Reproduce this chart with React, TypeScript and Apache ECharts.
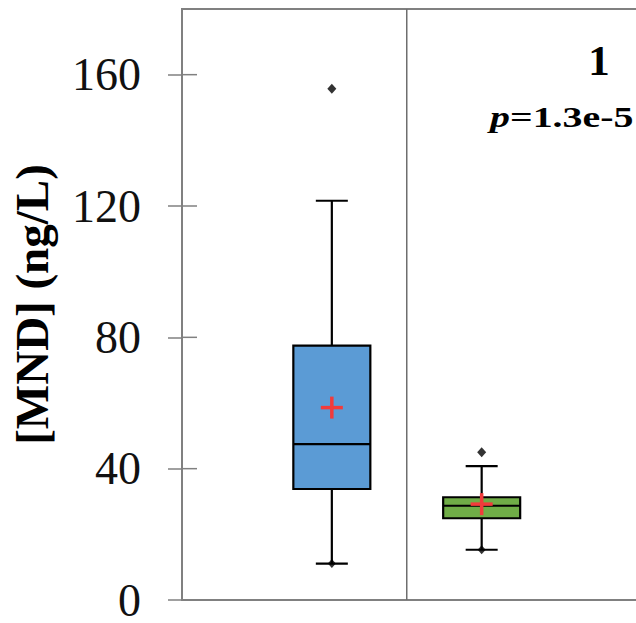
import React, { useEffect, useRef } from "react";
import * as echarts from "echarts";

// ---- data ----
const groupPositions = [1, 2];
const lowerWhisker = [11.1, 15.3];
const q1Values = [33.8, 24.9];
const medianValues = [47.5, 28.7];
const q3Values = [77.5, 31.3];
const upperWhisker = [121.6, 40.8];
const meanValues = [58.6, 29.2];
const outlierPoints = [
  [1, 155.7],
  [2, 45.0],
];
const yTicks = [0, 40, 80, 120, 160];
const boxColors = ["#5b9bd5", "#70ad47"];
const dividerAt = 1.5;
const panelLabel = "1";
const pValueText = "=1.3e-5";
const yMax = 180;
const xMax = 3.03;

export default function App() {
  const ref = useRef<HTMLDivElement>(null);

  useEffect(() => {
    if (!ref.current) return;
    const chart = echarts.init(ref.current, null, { renderer: "svg" });

    const boxData = groupPositions.map((x, i) => [
      x,
      lowerWhisker[i],
      q1Values[i],
      medianValues[i],
      q3Values[i],
      upperWhisker[i],
      meanValues[i],
    ]);
    const minPoints = groupPositions.map((x, i) => [x, lowerWhisker[i]]);

    const option: any = {
      animation: false,
      backgroundColor: "#ffffff",
      grid: {
        left: 181,
        top: 9,
        width: 460,
        height: 597,
        show: false,
      },
      xAxis: {
        type: "value",
        min: 0,
        max: xMax,
        axisLine: { show: true, onZero: false, lineStyle: { color: "#808080", width: 2 } },
        axisTick: { show: false },
        axisLabel: { show: false },
        splitLine: { show: false },
      },
      yAxis: {
        type: "value",
        min: 0,
        max: yMax,
        interval: 40,
        name: "[MND] (ng/L)",
        nameLocation: "middle",
        nameGap: 127,
        nameTextStyle: {
          fontFamily: "Liberation Serif",
          fontWeight: "bold",
          fontSize: 47,
          color: "#000",
        },
        axisLine: { show: true, lineStyle: { color: "#808080", width: 2 } },
        axisTick: {
          show: true,
          length: 14,
          customValues: yTicks,
          lineStyle: { color: "#808080", width: 1.5 },
        },
        axisLabel: {
          customValues: yTicks,
          margin: 41,
          fontFamily: "Liberation Serif",
          fontSize: 46,
          color: "#111",
        },
        splitLine: { show: false },
      },
      series: [
        {
          type: "custom",
          data: yTicks.map((t) => [0, t]),
          renderItem: (params: any, api: any) => {
            const p = api.coord([api.value(0), api.value(1)]);
            return {
              type: "line",
              shape: { x1: p[0], y1: p[1], x2: p[0] + 15, y2: p[1] },
              style: { stroke: "#808080", lineWidth: 1.5 },
            };
          },
          z: 1,
          silent: true,
        },
        {
          type: "custom",
          data: [[0, yMax]],
          renderItem: (params: any, api: any) => {
            const a = api.coord([0, api.value(1)]);
            const b = api.coord([xMax, api.value(1)]);
            return {
              type: "line",
              shape: { x1: a[0] - 1, y1: a[1], x2: b[0], y2: b[1] },
              style: { stroke: "#808080", lineWidth: 2 },
            };
          },
          z: 1,
          silent: true,
        },
        {
          type: "custom",
          data: [[dividerAt]],
          renderItem: (params: any, api: any) => {
            const top = api.coord([api.value(0), yMax]);
            const bot = api.coord([api.value(0), 0]);
            return {
              type: "line",
              shape: { x1: top[0], y1: top[1], x2: bot[0], y2: bot[1] },
              style: { stroke: "#6e6e6e", lineWidth: 1.5 },
            };
          },
          z: 1,
          silent: true,
        },
        {
          type: "custom",
          data: boxData,
          renderItem: (params: any, api: any) => {
            const x = api.value(0);
            const pLow = api.coord([x, api.value(1)]);
            const pQ1 = api.coord([x, api.value(2)]);
            const pMed = api.coord([x, api.value(3)]);
            const pQ3 = api.coord([x, api.value(4)]);
            const pHigh = api.coord([x, api.value(5)]);
            const pMean = api.coord([x, api.value(6)]);
            const cx = pMed[0];
            const halfBox = 38.5;
            const halfCap = 16;
            const halfPlus = 11;
            const color = boxColors[params.dataIndex];
            const lineStyle = { stroke: "#000", lineWidth: 2.2 };
            return {
              type: "group",
              children: [
                { type: "line", shape: { x1: cx, y1: pQ3[1], x2: cx, y2: pHigh[1] }, style: lineStyle },
                { type: "line", shape: { x1: cx, y1: pQ1[1], x2: cx, y2: pLow[1] }, style: lineStyle },
                { type: "line", shape: { x1: cx - halfCap, y1: pHigh[1], x2: cx + halfCap, y2: pHigh[1] }, style: lineStyle },
                { type: "line", shape: { x1: cx - halfCap, y1: pLow[1], x2: cx + halfCap, y2: pLow[1] }, style: lineStyle },
                {
                  type: "rect",
                  shape: { x: cx - halfBox, y: pQ3[1], width: halfBox * 2, height: pQ1[1] - pQ3[1] },
                  style: { fill: color, stroke: "#000", lineWidth: 2.2 },
                },
                { type: "line", shape: { x1: cx - halfBox, y1: pMed[1], x2: cx + halfBox, y2: pMed[1] }, style: lineStyle },
                {
                  type: "line",
                  shape: { x1: cx - halfPlus, y1: pMean[1], x2: cx + halfPlus, y2: pMean[1] },
                  style: { stroke: "#f23b3b", lineWidth: 3.5 },
                },
                {
                  type: "line",
                  shape: { x1: cx, y1: pMean[1] - halfPlus, x2: cx, y2: pMean[1] + halfPlus },
                  style: { stroke: "#f23b3b", lineWidth: 3.5 },
                },
              ],
            };
          },
          z: 3,
          silent: true,
        },
        {
          type: "scatter",
          data: outlierPoints,
          symbol: "diamond",
          symbolSize: [9, 10],
          itemStyle: { color: "#000" },
          z: 4,
          silent: true,
        },
        {
          type: "scatter",
          data: minPoints,
          symbol: "diamond",
          symbolSize: [8, 9],
          itemStyle: { color: "#000" },
          z: 4,
          silent: true,
        },
      ],
      graphic: [
        {
          type: "text",
          x: 599,
          y: 60,
          style: {
            text: panelLabel,
            font: "bold 43px 'Liberation Serif'",
            fill: "#000",
            align: "center",
            verticalAlign: "middle",
          },
        },
        {
          type: "text",
          x: 490,
          y: 117,
          scaleX: 1.33,
          style: {
            text: "{i|p}{b|" + pValueText + "}",
            align: "left",
            verticalAlign: "middle",
            rich: {
              i: { fontFamily: "Liberation Serif", fontStyle: "italic", fontWeight: "bold", fontSize: 30, fill: "#000" },
              b: { fontFamily: "Liberation Serif", fontWeight: "bold", fontSize: 30, fill: "#000" },
            },
          },
        },
      ],
    };

    chart.setOption(option);
    return () => chart.dispose();
  }, []);

  return (
    <div
      ref={ref}
      style={{ position: "fixed", left: 0, top: 0, width: 636, height: 623, background: "#fff" }}
    />
  );
}
